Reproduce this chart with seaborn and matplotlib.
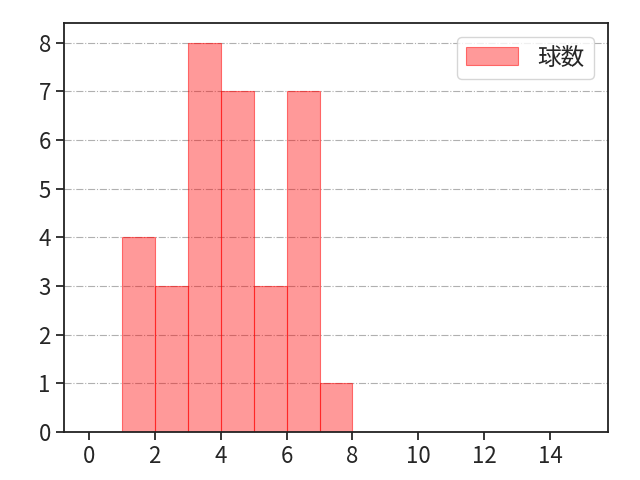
import numpy as np
import pandas as pd
import matplotlib
matplotlib.use('Agg')
import matplotlib.pyplot as plt
import seaborn as sns

# pitches per bin (bins of width 1, 0..15)
bin_left = list(range(0, 15))
counts = [0, 4, 3, 8, 7, 3, 7, 1, 0, 0, 0, 0, 0, 0, 0]
label = '球数'

sns.set_style('ticks')
plt.rcParams['font.family'] = ['Noto Sans CJK JP', 'DejaVu Sans']

df = pd.DataFrame({'x': bin_left, 'n': counts})

fig, ax = plt.subplots(figsize=(6.4, 4.8), dpi=100)
sns.histplot(data=df, x='x', weights='n', binwidth=1, binrange=(0, 15), color='red',
             alpha=0.4, edgecolor=(1, 0, 0, 0.5), linewidth=0.8, label=label, ax=ax)

ax.set_xticks(range(0, 16, 2))
ax.set_xlabel('')
ax.set_ylabel('')
ax.tick_params(labelsize=16, direction='out', length=6, width=1.3)
ax.yaxis.grid(True, linestyle='-.', color='#b0b0b0', linewidth=0.8)
ax.set_axisbelow(True)
for s in ax.spines.values():
    s.set_visible(True)
    s.set_color('#222222')
    s.set_linewidth(1.3)
ax.legend(loc='upper right', fontsize=17, handlelength=2.2, handleheight=0.8,
          borderaxespad=0.6)

plt.subplots_adjust(left=0.1, right=0.95, top=0.952, bottom=0.1)
plt.savefig('out.png')
